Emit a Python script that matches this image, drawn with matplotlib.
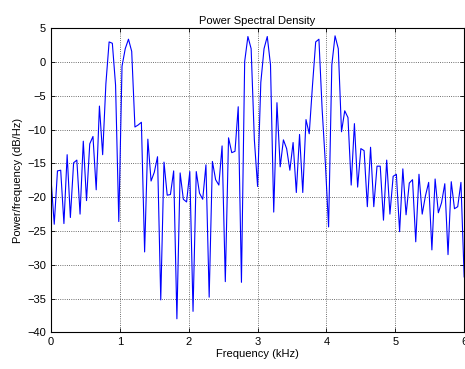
import numpy as np
import matplotlib
matplotlib.use("Agg")
import matplotlib.pyplot as plt

plt.rcParams['font.family'] = ['Liberation Sans', 'DejaVu Sans']

# frequency bins: 129 points from 0 to 6 kHz (12 kHz sample rate, nfft 256)
freq = np.arange(129) * 12.0 / 256

psd_db = [
    -17.3, -24.0, -16.1, -16.0, -23.9, -13.7, -23.0, -14.9, -14.5, -22.5,
    -11.7, -20.5, -12.1, -11.0, -18.9, -6.5, -13.7, -3.2, 3.0, 2.8,
    -3.4, -23.6, -0.6, 2.0, 3.4, 1.6, -9.6, -9.3, -8.9, -28.1,
    -11.4, -17.6, -16.3, -14.0, -35.2, -14.8, -19.7, -19.6, -16.1, -38.0,
    -16.4, -20.3, -20.7, -16.2, -36.9, -16.2, -19.4, -20.3, -15.2, -34.8,
    -14.7, -17.4, -18.2, -12.4, -32.5, -11.2, -13.4, -13.2, -6.6, -32.6,
    0.1, 3.8, 2.0, -11.5, -18.4, -3.0, 2.0, 3.8, -0.4, -22.2,
    -6.0, -15.5, -11.5, -12.8, -16.0, -11.9, -19.3, -10.7, -19.3, -8.5,
    -10.6, -3.5, 3.0, 3.4, -7.0, -15.0, -24.4, -0.4, 3.9, 2.0,
    -10.3, -7.2, -8.2, -18.2, -9.1, -18.5, -12.8, -13.1, -21.4, -12.6,
    -21.4, -15.4, -15.4, -23.4, -14.5, -22.5, -16.9, -16.6, -25.1, -15.8,
    -22.6, -17.9, -17.4, -26.6, -16.6, -22.5, -19.8, -17.8, -27.8, -17.3,
    -22.3, -20.8, -18.0, -28.5, -17.7, -21.7, -21.4, -17.8, -31.8,
]

xticks = [0, 1, 2, 3, 4, 5, 6]
yticks = [-40, -35, -30, -25, -20, -15, -10, -5, 0, 5]

fig = plt.figure(figsize=(4.65, 3.69), dpi=100)
ax = fig.add_axes([0.1097, 0.0995, 0.8885, 0.8235])

ax.plot(freq, psd_db, color='#0000ff', linewidth=0.8)

ax.set_xlim(0, 6)
ax.set_ylim(-40, 5)
ax.set_xticks(xticks)
ax.set_yticks(yticks)
ax.grid(True, linestyle=':', color='#404040', linewidth=0.6)
ax.tick_params(direction='in', top=True, right=True, labelsize=8, length=3, width=0.6)
for s in ax.spines.values():
    s.set_linewidth(0.8)

ax.set_title('Power Spectral Density', fontsize=8, pad=3)
ax.set_xlabel('Frequency (kHz)', fontsize=8, labelpad=1)
ax.set_ylabel('Power/frequency (dB/Hz)', fontsize=8, labelpad=3)

fig.savefig('out.png', dpi=100)
